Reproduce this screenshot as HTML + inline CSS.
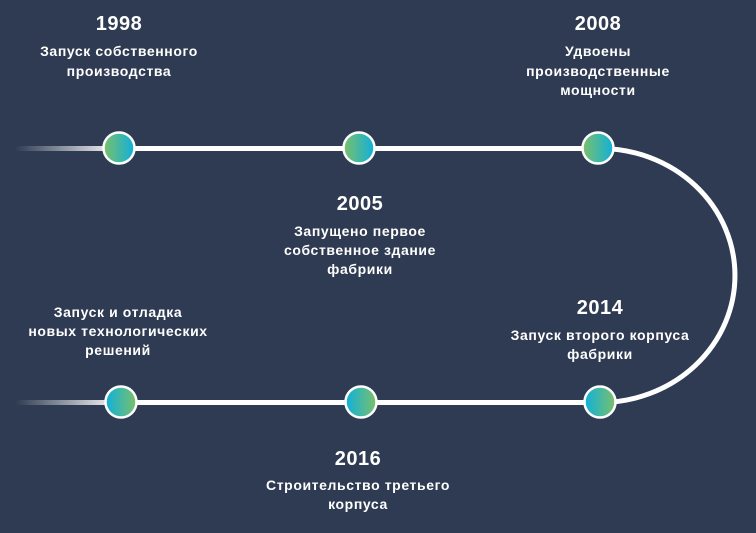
<!DOCTYPE html>
<html><head><meta charset="utf-8"><style>
html,body{margin:0;padding:0;background:#2e3b52;}
svg{display:block}
text{font-family:"Liberation Sans",sans-serif;font-weight:bold;fill:#fff;text-anchor:middle}
.y{font-size:20px;letter-spacing:0.5px}
.l{font-size:14px;letter-spacing:0.6px}
</style></head><body>
<svg width="756" height="533" viewBox="0 0 756 533" xmlns="http://www.w3.org/2000/svg">
<defs>
<linearGradient id="fade" x1="0" x2="1"><stop offset="0" stop-color="#fff" stop-opacity="0"/><stop offset="1" stop-color="#fff"/></linearGradient>
<linearGradient id="gb" x1="0" x2="1"><stop offset="0" stop-color="#7cc06a"/><stop offset="1" stop-color="#0fb0db"/></linearGradient>
<linearGradient id="bg" x1="0" x2="1"><stop offset="0" stop-color="#0fb0db"/><stop offset="1" stop-color="#7cc06a"/></linearGradient>
</defs>
<rect width="756" height="533" fill="#2e3b52"/>
<rect x="15" y="146" width="105" height="5" fill="url(#fade)"/>
<rect x="15" y="400" width="105" height="5" fill="url(#fade)"/>
<line x1="118" y1="148.5" x2="600" y2="148.5" stroke="#fff" stroke-width="5"/>
<line x1="118" y1="402.5" x2="600" y2="402.5" stroke="#fff" stroke-width="5"/>
<path d="M600 148.5 A135 127 0 0 1 600 402.5" fill="none" stroke="#fff" stroke-width="5"/>
<g stroke="#fff" stroke-width="2.5">
<circle cx="119" cy="148" r="15.5" fill="url(#gb)"/>
<circle cx="359" cy="148" r="15.5" fill="url(#gb)"/>
<circle cx="598" cy="148" r="15.5" fill="url(#gb)"/>
<circle cx="121" cy="402" r="15.5" fill="url(#bg)"/>
<circle cx="361" cy="402" r="15.5" fill="url(#bg)"/>
<circle cx="600" cy="402" r="15.5" fill="url(#bg)"/>
</g>
<text class="y" x="119" y="30">1998</text>
<text class="l" x="119" y="56">Запуск собственного</text>
<text class="l" x="119" y="76">производства</text>
<text class="y" x="598" y="30">2008</text>
<text class="l" x="598" y="56">Удвоены</text>
<text class="l" x="598" y="76">производственные</text>
<text class="l" x="598" y="95">мощности</text>
<text class="y" x="360" y="210">2005</text>
<text class="l" x="360" y="236">Запущено первое</text>
<text class="l" x="360" y="255">собственное здание</text>
<text class="l" x="360" y="274">фабрики</text>
<text class="l" x="118" y="317">Запуск и отладка</text>
<text class="l" x="118" y="336">новых технологических</text>
<text class="l" x="118" y="355">решений</text>
<text class="y" x="600" y="314">2014</text>
<text class="l" x="600" y="340">Запуск второго корпуса</text>
<text class="l" x="600" y="359">фабрики</text>
<text class="y" x="358" y="465">2016</text>
<text class="l" x="358" y="490">Строительство третьего</text>
<text class="l" x="358" y="509">корпуса</text>
</svg>
</body></html>
